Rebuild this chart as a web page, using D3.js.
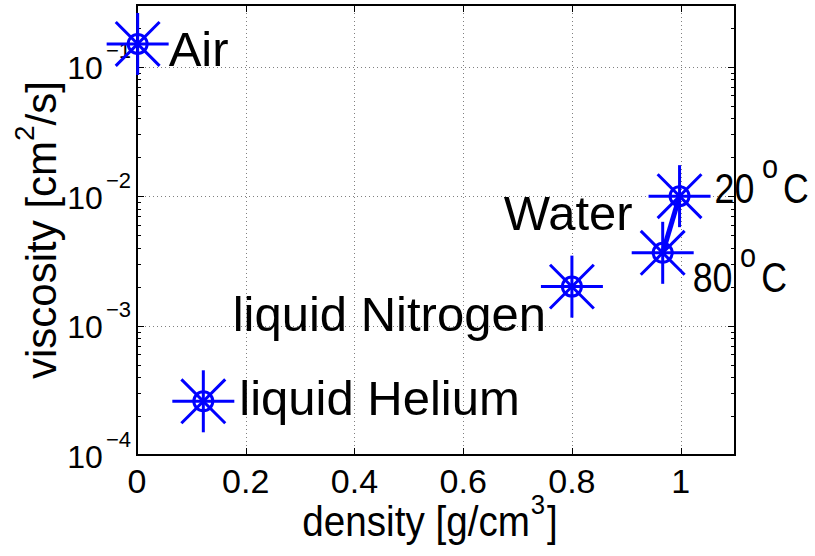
<!DOCTYPE html>
<html>
<head>
<meta charset="utf-8">
<script src="https://cdn.jsdelivr.net/npm/d3@7"></script>
<style>
  html, body { margin: 0; padding: 0; background: #fff; }
  svg { display: block; }
  text { font-family: "Liberation Sans", Arial, Helvetica, sans-serif; fill: #000; }
</style>
</head>
<body>
<div id="chart"></div>
<script>
// fluids: density [g/cm^3] vs kinematic viscosity [cm^2/s]
const fluids = ['Air', 'liquid Helium', 'liquid Nitrogen', 'Water 20°C', 'Water 80°C'];
const density = [0.0012, 0.122, 0.80, 0.998, 0.967];
const viscosity = [0.15, 0.00026, 0.0020, 0.0100, 0.00365];

// the two water points are joined by a line
const waterLine = [3, 4];

const xTicks = [0, 0.2, 0.4, 0.6, 0.8, 1];
const xTickLabels = ['0', '0.2', '0.4', '0.6', '0.8', '1'];
const yTicks = [1e-4, 1e-3, 1e-2, 1e-1];
const yTickExponents = ['−4', '−3', '−2', '−1'];

const xDomain = [0, 1.1];
const yDomain = [1e-4, 0.3];

const width = 815, height = 556;
const margin = { top: 5, right: 80, bottom: 101, left: 137 };
const blue = '#0000ff';

const svg = d3.select('#chart').append('svg')
  .attr('width', width)
  .attr('height', height);

const x = d3.scaleLinear().domain(xDomain).range([margin.left, width - margin.right]);
const y = d3.scaleLog().domain(yDomain).range([height - margin.bottom, margin.top]);

const x0 = x.range()[0], x1 = x.range()[1];
const y0 = y.range()[0], y1 = y.range()[1];

// grid (dotted, major ticks only)
const grid = svg.append('g').attr('class', 'grid')
  .attr('stroke', '#808080')
  .attr('stroke-width', 1)
  .attr('stroke-dasharray', '1,3');

grid.selectAll('line.gx')
  .data(xTicks.filter(d => d > 0))
  .enter().append('line')
  .attr('x1', d => Math.round(x(d)) + 0.5).attr('x2', d => Math.round(x(d)) + 0.5)
  .attr('y1', y1).attr('y2', y0);

grid.selectAll('line.gy')
  .data(yTicks.filter(d => d > yDomain[0]))
  .enter().append('line')
  .attr('y1', d => Math.round(y(d)) + 0.5).attr('y2', d => Math.round(y(d)) + 0.5)
  .attr('x1', x0).attr('x2', x1);

// ticks, inward, on all four sides
const ticks = svg.append('g').attr('stroke', '#000').attr('stroke-width', 1);
const majorLen = 7, minorLen = 4;

xTicks.forEach(d => {
  const px = Math.round(x(d)) + 0.5;
  ticks.append('line').attr('x1', px).attr('x2', px).attr('y1', y0).attr('y2', y0 - majorLen);
  ticks.append('line').attr('x1', px).attr('x2', px).attr('y1', y1).attr('y2', y1 + majorLen);
});

y.ticks().forEach(d => {
  const major = yTicks.includes(d);
  const len = major ? majorLen : minorLen;
  const py = Math.round(y(d)) + 0.5;
  ticks.append('line').attr('x1', x0).attr('x2', x0 + len).attr('y1', py).attr('y2', py);
  ticks.append('line').attr('x1', x1).attr('x2', x1 - len).attr('y1', py).attr('y2', py);
});

// frame
svg.append('rect')
  .attr('x', x0).attr('y', y1)
  .attr('width', x1 - x0).attr('height', y0 - y1)
  .attr('fill', 'none')
  .attr('stroke', '#000')
  .attr('stroke-width', 2);

// tick labels
svg.append('g').selectAll('text')
  .data(xTicks)
  .enter().append('text')
  .attr('x', d => x(d))
  .attr('y', y0 + 38)
  .attr('text-anchor', 'middle')
  .attr('font-size', '34px')
  .text((d, i) => xTickLabels[i]);

const yLab = svg.append('g').selectAll('text')
  .data(yTicks)
  .enter().append('text')
  .attr('x', x0 - 6)
  .attr('y', d => y(d) + 12.5)
  .attr('text-anchor', 'end');
yLab.append('tspan').attr('font-size', '32px').text('10');
yLab.append('tspan').attr('font-size', '22px').attr('dx', 3).attr('dy', -21)
  .text((d, i) => yTickExponents[i]);

// axis labels
const xlg = svg.append('g')
  .attr('transform', `translate(${(x0 + x1) / 2 - 6},536) scale(0.92,1)`);
const xl = xlg.append('text')
  .attr('text-anchor', 'middle')
  .attr('font-size', '42px');
xl.append('tspan').text('density [g/cm');
xl.append('tspan').attr('font-size', '28px').attr('dx', 1).attr('dy', -22).text('3');
xl.append('tspan').attr('dx', 2).attr('dy', 22).text(']');

const yl = svg.append('text')
  .attr('transform', `translate(56,${(y0 + y1) / 2}) rotate(-90)`)
  .attr('text-anchor', 'middle')
  .attr('font-size', '42px');
yl.append('tspan').text('viscosity [cm');
yl.append('tspan').attr('font-size', '28px').attr('dy', -22).text('2');
yl.append('tspan').attr('dy', 22).text('/s]');

// water line
const line = d3.line().x(i => x(density[i])).y(i => y(viscosity[i]));
svg.append('path')
  .attr('d', line(waterLine))
  .attr('fill', 'none')
  .attr('stroke', blue)
  .attr('stroke-width', 5);

// markers: asterisk + circle
const armLen = 31, ringR = 9.5;
const marks = svg.append('g').selectAll('g')
  .data(fluids.map((f, i) => i))
  .enter().append('g')
  .attr('transform', i => `translate(${x(density[i])},${y(viscosity[i])})`)
  .attr('stroke', blue)
  .attr('stroke-width', 3)
  .attr('fill', 'none');

[0, 45, 90, 135].forEach(a => {
  const r = a * Math.PI / 180;
  marks.append('line')
    .attr('x1', -armLen * Math.cos(r)).attr('y1', -armLen * Math.sin(r))
    .attr('x2', armLen * Math.cos(r)).attr('y2', armLen * Math.sin(r));
});
marks.append('circle').attr('r', ringR);

// text labels placed next to the points
function place(i, dx, dy) {
  return [x(density[i]) + dx, y(viscosity[i]) + dy];
}

const labelFont = '49px';
[[0, 'Air', 'start', 31, 22],
 [1, 'liquid Helium', 'start', 36, 14],
 [2, 'liquid Nitrogen', 'end', -26, 44],
 [4, 'Water', 'end', -30, -23]].forEach(([i, t, anchor, dx, dy]) => {
  const [px, py] = place(i, dx, dy);
  svg.append('text')
    .attr('x', px).attr('y', py)
    .attr('text-anchor', anchor)
    .attr('font-size', labelFont)
    .text(t);
});

// temperature labels (narrower TeX text)
[[3, '20', 35, 6.5], [4, '80', 30, 39.5]].forEach(([i, t, dx, dy]) => {
  const [px, py] = place(i, dx, dy);
  const g = svg.append('g').attr('transform', `translate(${px},${py}) scale(0.85,1)`);
  const tx = g.append('text').attr('font-size', '42px');
  tx.append('tspan').text(t);
  tx.append('tspan').attr('font-size', '34px').attr('dx', 9).attr('dy', -25).text('o');
  tx.append('tspan').attr('dx', 6).attr('dy', 25).text('C');
});
</script>
</body>
</html>
